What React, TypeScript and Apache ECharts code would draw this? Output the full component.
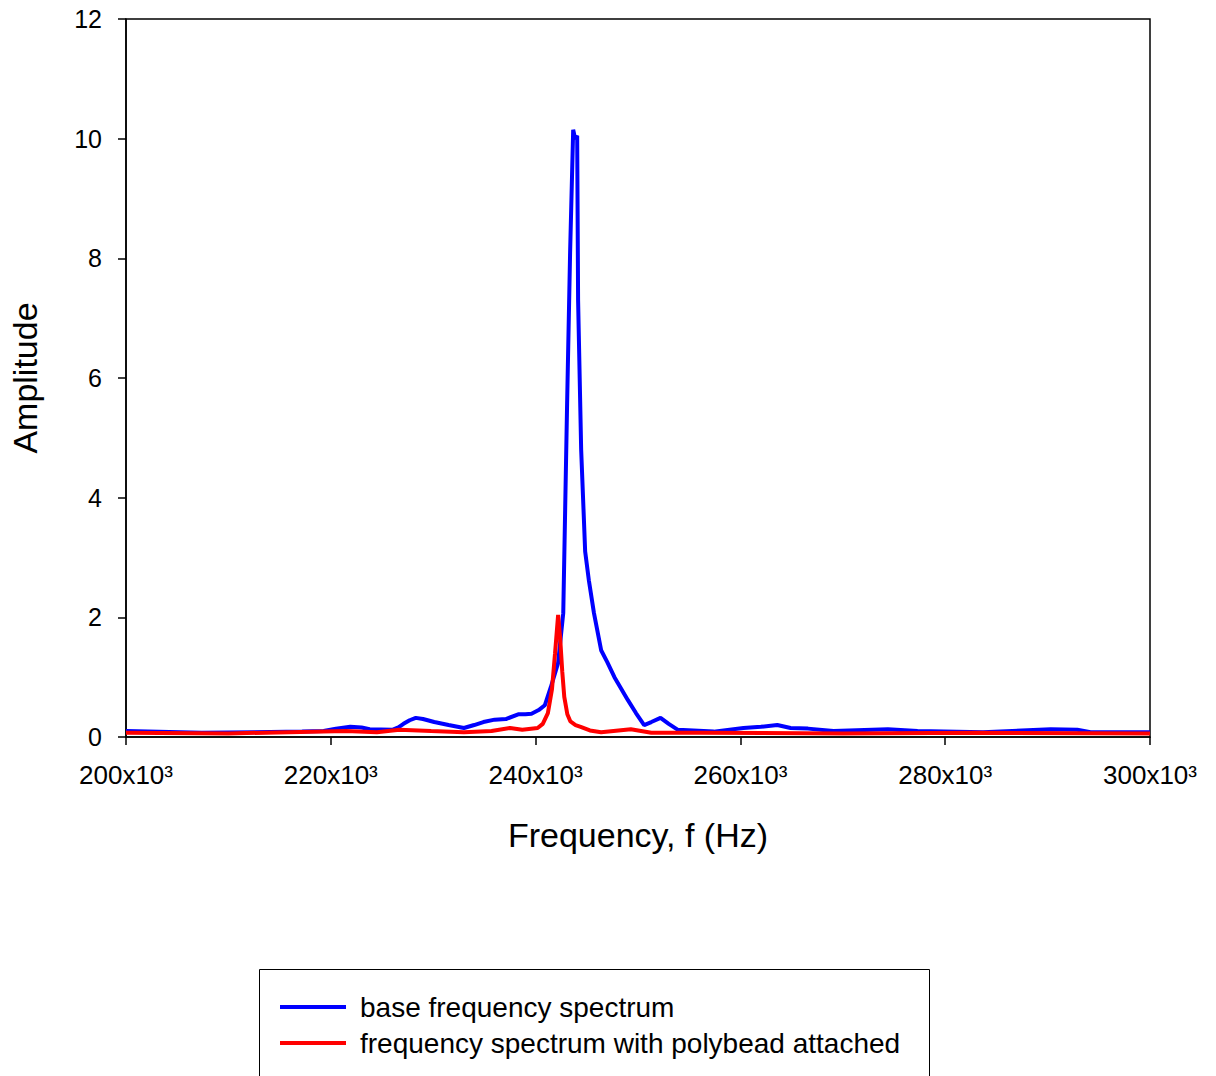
import React, { useEffect, useRef } from "react";
import * as echarts from "echarts";

// Frequency in kHz (axis labelled as "x10³"), amplitude values
const baseFreq = [200.0, 207.4, 217.2, 219.3, 220.5, 221.9, 223.0, 223.8, 226.0, 226.6, 227.1, 227.7, 228.3, 229.0, 230.1, 231.5, 233.0, 234.0, 234.9, 236.0, 237.1, 238.3, 239.0, 239.6, 240.3, 240.9, 241.5, 242.2, 242.7, 243.08, 243.37, 243.67, 243.86, 244.06, 244.15, 244.45, 244.84, 245.2, 245.7, 246.4, 247.0, 247.7, 249.0, 249.8, 250.6, 251.3, 252.2, 253.0, 253.9, 257.4, 260.3, 262.0, 263.6, 264.9, 266.6, 269.1, 274.4, 277.3, 283.7, 290.3, 292.9, 294.2, 300.0];
const baseAmp = [0.1, 0.07, 0.09, 0.1, 0.14, 0.17, 0.16, 0.13, 0.12, 0.16, 0.22, 0.28, 0.32, 0.3, 0.25, 0.2, 0.15, 0.2, 0.25, 0.29, 0.3, 0.38, 0.38, 0.39, 0.45, 0.53, 0.84, 1.24, 2.07, 5.6, 8.1, 10.15, 10.0, 10.05, 7.3, 4.8, 3.1, 2.62, 2.07, 1.45, 1.25, 1.0, 0.62, 0.4, 0.2, 0.25, 0.32, 0.22, 0.12, 0.09, 0.15, 0.17, 0.2, 0.15, 0.14, 0.1, 0.13, 0.1, 0.08, 0.13, 0.12, 0.08, 0.08];

const beadFreq = [200.0, 210.0, 221.5, 224.5, 226.7, 229.8, 233.0, 235.7, 237.5, 238.7, 240.2, 240.7, 241.2, 241.6, 241.9, 242.2, 242.4, 242.6, 242.8, 243.1, 243.4, 243.9, 244.4, 245.3, 246.4, 249.3, 251.3, 256.1, 270.0, 283.0, 300.0];
const beadAmp = [0.07, 0.06, 0.1, 0.08, 0.12, 0.1, 0.08, 0.1, 0.15, 0.12, 0.15, 0.22, 0.4, 0.8, 1.4, 2.04, 1.65, 1.1, 0.67, 0.38, 0.26, 0.2, 0.17, 0.11, 0.08, 0.13, 0.07, 0.07, 0.06, 0.07, 0.06];

const xTicks = { min: 200, max: 300, interval: 20 };
const yTicks = { min: 0, max: 12, interval: 2 };

const seriesNames = ["base frequency spectrum", "frequency spectrum with polybead attached"];
const seriesColors = ["#0000FF", "#FF0000"];

const FONT = "'Liberation Sans', Arial, sans-serif";

export default function App() {
  const ref = useRef<HTMLDivElement>(null);
  useEffect(() => {
    document.body.style.margin = "0";
    const chart = echarts.init(ref.current!, null, { renderer: "svg" });
    const zip = (xs: number[], ys: number[]) => xs.map((x, i) => [x, ys[i]]);
    chart.setOption({
      animation: false,
      backgroundColor: "#ffffff",
      textStyle: { fontFamily: FONT },
      grid: {
        left: 124, right: 66, top: 19, bottom: 339,
        show: true, borderColor: "#000", borderWidth: 1.5, containLabel: false,
      },
      xAxis: {
        type: "value", min: xTicks.min, max: xTicks.max, interval: xTicks.interval,
        name: "Frequency, f (Hz)", nameLocation: "middle", nameGap: 81,
        nameTextStyle: { fontSize: 34, color: "#000", fontFamily: FONT },
        axisLine: { show: true, onZero: false, lineStyle: { color: "#000", width: 1.5 } },
        axisTick: { show: true, inside: false, length: 8, lineStyle: { color: "#000", width: 1.5 } },
        axisLabel: { fontSize: 26, color: "#000", margin: 25, fontFamily: FONT, formatter: (v: number) => `${v}x10³` },
        splitLine: { show: false },
      },
      yAxis: {
        type: "value", min: yTicks.min, max: yTicks.max, interval: yTicks.interval,
        name: "Amplitude", nameLocation: "middle", nameGap: 84, nameRotate: 90,
        nameTextStyle: { fontSize: 34, color: "#000", fontFamily: FONT },
        axisLine: { show: true, lineStyle: { color: "#000", width: 1.5 } },
        axisTick: { show: true, inside: false, length: 8, lineStyle: { color: "#000", width: 1.5 } },
        axisLabel: { fontSize: 25, color: "#000", margin: 24, fontFamily: FONT },
        splitLine: { show: false },
      },
      legend: {
        orient: "vertical", left: 280, top: 993, padding: 0,
        icon: "rect", itemWidth: 66, itemHeight: 4, itemGap: 8,
        textStyle: { fontSize: 28, color: "#000", fontFamily: FONT, lineHeight: 28, padding: [0, 0, 0, 9] },
        data: seriesNames,
      },
      graphic: [
        {
          type: "rect",
          shape: { x: 259.5, y: 969.5, width: 670, height: 200 },
          style: { fill: "none", stroke: "#000", lineWidth: 1 },
          z: -1,
        },
      ],
      series: [
        {
          name: seriesNames[0], type: "line", data: zip(baseFreq, baseAmp),
          showSymbol: false, smooth: false, color: seriesColors[0],
          lineStyle: { width: 4, color: seriesColors[0] },
        },
        {
          name: seriesNames[1], type: "line", data: zip(beadFreq, beadAmp),
          showSymbol: false, smooth: false, color: seriesColors[1],
          lineStyle: { width: 4, color: seriesColors[1] },
        },
      ],
    });
    return () => chart.dispose();
  }, []);
  return <div ref={ref} style={{ width: 1216, height: 1076 }} />;
}
